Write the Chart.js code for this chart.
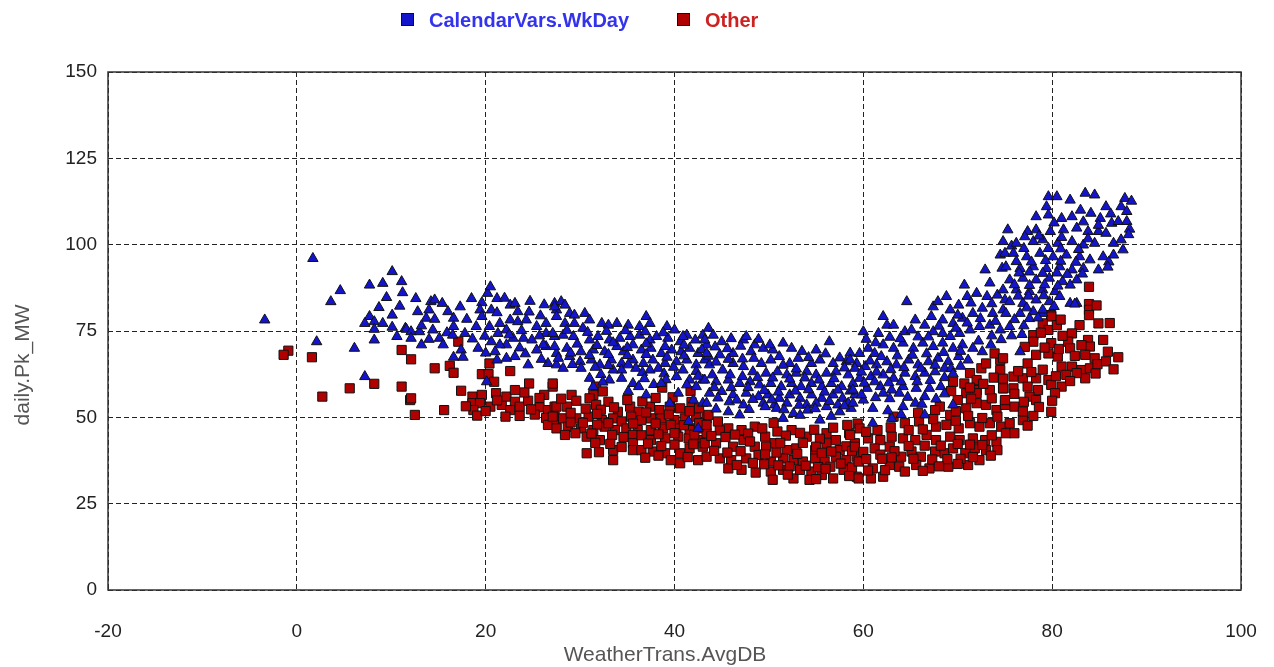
<!DOCTYPE html>
<html>
<head>
<meta charset="utf-8">
<script src="https://cdn.jsdelivr.net/npm/chart.js@4.4.1/dist/chart.umd.min.js"></script>
<style>
  html, body { margin: 0; padding: 0; background: #ffffff; }
  #wrap { width: 1274px; height: 667px; }
</style>
</head>
<body>
<div id="wrap"><canvas id="c" width="1274" height="667"></canvas></div>
<script>
// Series names and axis titles
const seriesNames = ['CalendarVars.WkDay', 'Other'];
const xTitle = 'WeatherTrans.AvgDB';
const yTitle = 'daily.Pk_MW';

// Tick values
const xTicks = [-20, 0, 20, 40, 60, 80, 100];
const yTicks = [0, 25, 50, 75, 100, 125, 150];

// Weekday peaks: [average dry bulb, daily peak MW]
const wkdayPoints = [
  [1.7,96.0],[-3.4,78.2],[4.6,86.7],[3.6,83.5],[10.1,92.2],[7.7,88.3],[9.1,88.8],[11.1,89.3],[11.2,86.1],[8.7,81.8],
  [10.1,79.6],[7.7,79.2],[7.2,77.2],[8.2,77.7],[9.1,77.2],[8.2,75.5],[10.1,76.1],[11.5,75.8],[10.6,73.4],[8.2,72.4],
  [2.1,71.9],[6.1,70.0],[7.2,61.8],
  [12.6,84.4],[14.2,83.5],[14.6,84.0],[15.4,83.0],[16.0,80.6],[16.6,78.7],[13.7,78.7],[14.6,78.4],[14.4,75.3],[16.6,76.3],
  [11.6,75.5],[12.1,74.8],[13.0,74.8],[12.1,72.9],[15.1,72.9],[15.5,71.0],[17.4,69.5],[16.6,67.4],[17.6,67.4],[18.5,84.4],
  [19.6,83.2],[20.2,85.9],[20.5,87.8],[21.2,84.4],[19.4,81.1],[20.6,81.1],[21.2,80.3],[19.6,79.2],[19.0,76.3],[20.4,76.3],
  [21.5,77.2],[21.3,74.3],[22.2,75.3],[22.6,82.5],[23.1,83.0],[23.4,80.6],[22.6,78.2],[23.4,77.7],[24.3,78.2],[22.9,72.9],
  [24.0,72.9],[24.9,72.4],[22.2,71.0],[21.5,71.0],[20.6,71.9],[19.2,70.0],[21.0,69.0],[22.2,67.1],[23.1,67.6],[21.2,66.6],
  [24.5,65.2],[20.1,60.3],[26.4,74.3],[27.3,73.4],[26.4,70.5],[27.5,68.5],[26.6,65.6],[27.5,65.2],[27.3,83.0],[27.5,81.1],
  [26.4,77.2],[25.4,76.3],[26.1,71.0],[25.4,69.5],
  [13.2,76.5],[14.0,81.1],[15.9,74.5],[17.8,74.3],[18.0,78.4],[17.3,82.0],[19.9,73.5],[22.5,73.9],[23.8,75.1],[24.6,80.5],
  [25.8,79.4],[25.7,73.6],[23.6,70.1],[24.2,68.4],[25.9,66.8],[18.6,72.7],[20.0,68.6],[22.0,84.5],[24.7,83.6],[26.2,82.6],
  [13.2,71.0],[14.0,72.6],[16.5,73.8],[10.9,82.2],[12.8,80.6],[9.5,84.7],
  [28.0,83.5],[27.3,82.0],[28.4,82.5],[28.9,80.1],[27.5,79.2],[29.4,79.6],[30.5,80.1],[31.0,78.2],[28.4,77.2],[29.4,77.2],
  [30.3,75.8],[32.3,77.2],[33.0,76.7],[33.9,77.2],[35.1,76.7],[36.3,76.3],[37.0,79.2],[37.4,77.2],[39.2,76.3],[40.0,75.3],
  [41.3,73.8],[42.2,72.4],[43.0,73.8],[43.4,71.0],[27.1,74.3],[28.2,73.8],[29.3,73.4],[31.0,72.4],[31.9,73.4],[33.1,72.4],
  [34.2,72.9],[35.3,73.4],[36.3,73.8],[37.4,72.4],[38.1,73.4],[39.3,72.9],[40.6,71.9],[27.3,70.5],[28.6,70.0],[30.1,69.0],
  [31.4,69.5],[32.6,69.0],[33.9,70.5],[34.6,69.0],[35.6,71.0],[36.5,69.5],[37.5,70.0],[38.6,68.5],[39.7,69.5],[40.7,69.0],
  [41.6,70.0],[42.5,68.5],[27.7,67.1],[28.9,67.6],[30.0,66.1],[31.2,66.6],[32.1,65.2],[33.3,66.6],[34.4,65.6],[35.6,66.6],
  [36.7,65.6],[37.7,66.6],[39.0,65.6],[40.2,66.1],[41.3,66.6],[42.3,65.2],[43.2,66.6],[28.2,64.2],[30.1,64.2],[34.4,63.7],
  [35.9,64.2],[37.4,63.7],[38.3,64.2],[40.9,63.7],[31.0,61.3],[33.5,63.7],[33.1,60.8],[34.4,61.3],[35.6,59.8],[40.2,61.8],
  [41.6,60.8],[43.0,60.8],[31.4,58.9],[42.3,58.9],
  [28.6,75.2],[30.8,74.6],[32.8,74.9],[34.8,75.1],[36.9,74.8],[38.8,74.5],[40.9,73.4],[29.7,71.2],[31.8,70.8],[33.5,71.6],
  [35.0,70.2],[37.0,71.3],[39.0,70.5],[41.0,70.9],[42.9,69.6],[29.0,68.6],[31.0,67.9],[33.0,68.2],[35.0,67.9],[37.0,68.2],
  [39.2,67.4],[41.0,67.8],[43.6,67.7],[29.2,65.3],[31.6,64.5],[33.0,65.0],[35.1,65.2],[36.6,63.0],[38.9,62.6],[39.9,64.5],
  [42.3,63.3],[32.2,62.4],[36.8,61.2],[39.1,60.9],[42.5,61.9],[37.8,59.5],[32.4,60.2],
  [35.1,57.5],[36.2,58.9],[37.0,56.5],[39.5,54.1],[40.4,57.0],[41.5,48.8],[42.5,46.8],[42.0,55.0],[43.0,54.1],[38.6,59.8],
  [41.3,59.4],
  [43.6,75.8],[44.1,73.8],[45.0,71.9],[43.2,72.4],[47.3,72.4],[47.6,73.4],[48.5,71.0],[49.4,70.0],[50.4,69.5],[51.5,71.5],
  [48.1,69.0],[56.4,71.9],[55.0,69.5],[46.2,68.5],[43.4,68.5],[44.8,68.1],[49.2,65.6],[50.2,66.6],[51.1,67.6],[52.2,65.6],
  [53.1,67.1],[54.5,65.6],[55.4,66.6],[56.8,65.6],[58.2,66.1],[59.3,65.6],[46.2,65.6],[47.3,64.7],[43.7,65.2],[45.1,63.7],
  [48.3,63.2],[49.7,62.8],[50.9,63.2],[51.9,62.3],[52.9,62.8],[54.0,63.2],[55.0,62.3],[56.1,62.8],[57.1,63.2],[58.4,62.3],
  [43.2,60.8],[44.4,60.3],[45.7,60.8],[46.9,59.8],[48.0,60.3],[49.0,59.4],[50.2,59.8],[51.3,58.9],[52.4,59.8],[53.4,58.9],
  [54.5,59.8],[55.6,58.9],[56.6,59.8],[57.7,58.9],[58.9,59.8],[43.7,57.0],[45.0,57.5],[46.2,56.5],[47.6,57.0],[48.9,56.0],
  [49.9,56.5],[51.1,55.5],[52.2,56.5],[53.3,55.5],[54.5,56.5],[55.6,55.5],[56.8,56.5],[57.8,55.5],[59.1,56.5],[43.4,54.1],
  [45.8,54.5],[47.3,53.6],[49.4,54.1],[50.6,53.6],[51.9,54.1],[54.0,53.6],[55.0,54.1],[57.3,53.6],[58.4,54.1],
  [45.7,51.6],[46.9,50.7],[49.6,53.1],[50.8,52.6],[51.5,49.7],[52.6,51.1],[54.1,52.1],[55.4,49.2],[56.1,53.1],[57.5,51.6],
  [58.7,52.6],
  [44.3,70.4],[45.6,69.9],[47.0,70.6],[46.0,72.8],[48.9,72.6],[50.1,71.0],[52.4,70.0],[53.5,69.1],[54.2,67.3],[52.9,64.0],
  [51.5,65.1],[48.4,67.1],[47.2,66.9],[45.7,66.8],[44.4,66.0],[44.0,62.3],[45.9,62.3],[47.2,61.8],[48.8,61.5],[50.4,61.4],
  [52.2,61.1],[53.8,61.4],[55.3,60.8],[56.9,61.2],[58.0,64.3],[57.5,67.2],[58.6,68.6],[56.0,68.4],[44.2,58.6],[46.0,58.6],
  [47.8,58.6],[49.5,57.8],[51.0,57.3],[52.8,57.6],[54.2,58.0],[55.9,57.3],[57.3,57.9],[58.6,57.6],[44.6,55.6],[46.6,55.0],
  [48.3,55.2],[50.3,55.1],[51.6,52.2],[53.2,53.5],[54.9,52.5],[56.4,54.6],[58.0,53.3],[47.9,52.3],[44.4,52.4],[53.3,50.6],
  [56.6,50.3],
  [64.6,83.5],[62.1,79.2],[60.0,74.8],[61.6,74.3],[62.5,76.7],[63.2,76.7],[65.5,78.2],[64.4,74.8],[65.1,75.3],[66.5,76.7],
  [67.4,82.0],[67.2,79.2],[67.9,83.5],[68.8,85.0],[69.2,81.1],[70.1,82.5],[71.0,85.0],[72.0,85.9],[73.1,85.0],[74.2,85.4],
  [75.0,84.0],[68.4,78.2],[69.5,77.2],[70.5,78.7],[71.6,80.1],[72.6,81.6],[73.7,80.1],[74.8,81.1],[67.4,74.8],[68.4,74.3],
  [69.2,73.4],[70.2,74.3],[71.3,75.3],[72.3,76.3],[73.4,76.7],[74.5,75.3],[58.6,66.6],[59.6,68.5],[60.5,70.0],[61.2,68.5],
  [62.1,71.0],[63.2,70.0],[64.2,71.5],[65.3,70.0],[66.3,71.5],[67.4,70.5],[68.4,71.5],[69.5,70.0],[70.5,71.0],[71.6,70.0],
  [72.6,69.0],[73.5,71.0],[59.1,64.2],[60.2,64.7],[61.4,65.2],[62.5,66.1],[63.5,65.2],[64.8,66.6],[65.8,65.2],[66.9,66.1],
  [67.9,67.1],[69.0,66.1],[70.1,67.6],[71.1,66.6],[59.6,61.3],[60.8,61.8],[62.1,62.3],[63.2,61.3],[64.4,62.8],[65.5,61.8],
  [66.5,62.8],[67.6,63.2],[68.6,64.2],[58.9,57.9],[60.4,58.4],[61.8,58.9],[63.0,57.9],[64.2,58.9],[65.6,58.4],[67.0,58.4],
  [68.2,58.9],
  [60.0,55.0],[61.0,52.6],[61.0,48.3],[63.0,49.7],[64.2,53.1],[65.5,54.1],[66.5,50.7],[66.5,56.0],[69.5,53.6],[58.9,54.1],
  [62.1,57.0],[63.8,57.0],
  [60.3,72.6],[61.3,71.6],[62.8,73.2],[63.9,72.8],[65.8,73.3],[66.9,73.3],[68.0,76.4],[69.8,75.8],[71.0,77.3],[72.4,78.6],
  [73.6,82.9],[71.4,83.1],[70.0,79.6],[60.7,66.3],[61.9,67.6],[63.6,67.8],[65.2,68.0],[66.7,68.4],[68.5,68.8],[70.3,69.1],
  [72.2,72.1],[73.6,73.6],[74.6,72.5],[59.8,63.1],[61.4,63.1],[62.9,63.8],[64.3,64.4],[66.1,64.2],[67.6,65.1],[69.3,64.1],
  [70.3,64.8],[60.1,59.9],[61.2,60.3],[62.7,60.0],[64.0,60.3],[65.7,60.3],[67.1,60.7],[68.6,61.5],[69.5,62.6],[59.8,56.5],
  [61.3,55.7],[62.8,55.4],[64.7,55.8],[66.2,53.8],[67.7,55.3],[68.6,56.8],[62.6,51.9],[64.0,50.8],
  [72.9,92.7],[74.5,97.0],[70.7,88.3],[73.4,88.9],[74.7,93.2],[75.7,99.6],
  [79.6,113.9],[80.5,113.9],[81.9,112.9],[83.5,114.9],[84.5,114.4],[85.7,111.0],[87.7,113.4],[87.3,111.0],[87.9,109.6],[79.4,111.0],
  [78.3,108.1],[79.6,108.6],[81.0,107.6],[82.1,108.1],[83.0,110.0],[84.1,109.1],[85.1,107.6],[86.3,106.2],[87.0,106.7],[87.9,106.7],
  [75.3,104.3],[77.4,103.8],[78.3,104.3],[79.8,103.8],[81.2,104.3],[82.6,104.8],[83.8,103.8],[84.9,103.8],[85.7,103.3],[86.5,100.4],
  [87.3,101.4],[74.8,100.9],[76.2,100.4],[78.0,100.9],[79.0,101.4],[80.6,100.4],[82.1,100.9],[83.3,99.9],[84.5,100.4],[85.4,96.5],
  [86.5,97.0],[84.9,92.7],[75.0,97.5],[75.9,97.5],[77.3,96.5],[78.7,97.5],[80.1,96.5],[81.5,97.0],[82.9,96.5],[84.0,95.6],
  [75.1,93.6],[76.6,93.1],[78.0,93.6],[79.4,93.1],[80.8,93.6],[82.1,92.7],[83.3,93.1],[75.5,89.8],[76.9,90.3],[78.3,89.8],
  [79.7,90.3],[81.1,89.3],[82.6,89.8],[74.8,86.9],[76.2,86.9],[77.6,86.4],[79.0,86.9],[80.3,86.4],[81.9,88.3],[81.9,83.0],
  [82.6,83.0],[75.5,83.5],[76.9,83.0],[78.3,84.0],[79.7,83.5],[75.1,80.1],[76.6,80.1],[78.0,80.6],[79.0,80.1],
  [82.4,82.8],[76.6,69.0],[79.0,81.1],[86.0,95.0],[87.5,98.5],[88.2,104.5],
  [76.2,95.1],[77.8,95.0],[79.3,95.4],[80.9,95.2],[82.5,94.9],[76.5,91.8],[77.6,92.1],[79.0,91.7],[80.5,91.8],[81.6,91.4],
  [76.0,88.4],[77.6,88.2],[79.2,88.4],[80.6,88.0],[76.4,85.1],[77.5,85.1],[79.1,85.2],[80.8,85.0],[77.3,81.7],[80.2,82.1],
  [76.0,78.3],[77.6,78.6],[74.0,77.8],[75.5,76.3],[77.0,76.5],[75.7,73.6],[76.8,74.0],[78.5,78.8],[80.9,98.8],[79.6,98.9],
  [77.0,98.9],[82.8,98.6],[83.8,101.7],[81.0,102.1],[78.6,102.5],[77.1,102.3],[80.2,106.3],[83.3,106.6],[84.9,105.6],[86.2,108.9],
  [88.4,112.6],[88.1,102.9],[85.9,93.5],[83.2,91.5]
];

// Remaining days: [average dry bulb, daily peak MW]
const otherPoints = [
  [-0.9,69.3],[-1.4,68.1],[1.6,67.4],[11.1,69.5],[8.2,59.7],[11.1,58.9],[5.6,58.4],[2.7,56.0],[12.0,55.0],
  [12.1,66.8],[14.6,64.2],[16.2,64.9],[16.6,62.9],[17.1,71.9],[12.1,55.5],[12.5,50.7],[15.6,52.1],[19.6,62.5],[20.3,62.5],
  [20.4,65.6],[22.6,63.4],[24.6,59.8],[27.1,58.9],[18.6,56.0],[19.6,56.5],[18.6,54.1],[19.4,54.1],[18.7,52.1],[19.1,50.5],
  [20.5,53.1],[21.1,57.0],[21.7,53.6],[22.2,56.0],[23.1,57.9],[23.1,54.5],[22.6,52.1],[23.6,53.1],[22.1,50.2],[23.6,50.4],
  [26.2,56.5],[25.7,52.9],[26.6,52.1],[27.3,53.1],[26.4,49.8],[27.3,50.2],[26.6,47.8],[27.5,47.8],
  [17.9,53.2],[20.0,51.8],[21.2,54.9],[24.5,54.8],[25.2,50.8],[24.1,57.2],[25.7,55.6],[24.8,52.3],[20.9,60.3],[17.4,57.7],
  [27.1,59.8],[31.7,58.9],[38.7,58.6],[41.7,57.6],
  [29.1,56.5],[27.5,53.1],[28.6,53.1],[31.4,56.5],[32.4,57.5],[31.0,55.5],[31.7,53.6],[33.0,54.5],[34.0,51.6],[35.3,53.1],
  [36.2,51.6],[37.4,53.1],[38.4,52.1],[39.5,53.1],[40.6,52.6],[27.1,50.2],[28.2,49.7],[29.6,49.7],[30.9,50.2],[32.3,49.2],
  [33.5,49.7],[34.4,48.8],[35.4,50.2],[36.5,49.2],[37.5,49.7],[38.6,49.7],[40.0,49.2],[41.1,49.7],[42.3,50.2],[43.4,49.7],
  [27.5,46.8],[28.7,47.3],[30.1,46.8],[31.4,46.3],[32.6,47.3],[33.7,46.3],[34.9,46.8],[36.1,46.3],[37.5,46.3],[38.8,46.8],
  [40.2,46.8],[41.6,46.3],[42.8,46.8],[28.4,44.9],[30.7,44.4],[32.1,43.4],[35.6,44.9],[37.5,43.4],[39.0,43.9],[40.4,44.4],
  [41.5,43.9],[42.7,43.4],[43.4,45.4],[35.6,42.5],[35.6,40.5],[33.5,40.5],[33.5,37.6],[30.7,39.6],[36.5,40.5],[37.7,40.1],
  [39.0,39.6],[40.6,39.6],[41.6,41.0],[42.5,37.6],[40.6,36.7],[43.0,41.5],
  [28.0,55.4],[29.6,54.8],[30.6,52.5],[32.2,52.2],[33.6,52.9],[35.0,55.0],[36.6,54.6],[38.0,55.6],[39.8,55.8],[41.8,54.4],
  [42.6,52.6],[29.0,51.3],[31.8,51.0],[37.0,51.4],[39.4,50.8],[41.6,51.8],[29.0,48.5],[30.3,48.4],[31.8,47.9],[33.0,48.3],
  [35.6,48.2],[38.0,48.2],[39.6,47.8],[41.0,47.7],[42.6,48.3],[29.5,45.4],[31.2,45.3],[33.4,44.9],[34.6,44.3],[36.5,44.8],
  [38.3,45.1],[40.0,45.4],[42.1,45.0],[31.6,42.6],[33.2,42.3],[34.4,41.4],[37.2,42.4],[38.6,41.7],[40.0,42.1],[42.0,42.2],
  [32.0,39.9],[38.3,38.9],[41.4,38.5],[39.6,37.6],[36.9,38.3],
  [43.6,50.7],[44.6,48.8],[43.4,47.8],[45.7,46.8],[47.1,46.3],[48.5,47.3],[49.6,44.4],[50.9,45.9],[52.4,46.3],[54.0,44.4],
  [56.1,45.4],[57.1,43.4],[58.5,45.4],[43.2,42.5],[44.4,42.5],[46.2,41.5],[47.3,43.4],[48.5,41.5],[50.6,42.5],[51.9,40.5],
  [52.9,41.0],[54.9,40.5],[56.1,42.5],[57.5,40.5],[59.1,42.5],[43.4,38.6],[44.8,38.1],[46.0,37.6],[47.6,38.1],[48.9,39.1],
  [50.2,37.2],[51.5,38.1],[52.6,37.6],[53.6,37.2],[54.9,38.1],[55.9,37.2],[57.1,38.6],[58.2,37.6],[59.3,38.6],[45.7,35.2],
  [47.1,34.8],[50.2,34.3],[51.5,34.8],[52.6,32.3],[53.3,34.8],[54.5,34.3],[55.6,33.3],[56.8,32.3],[57.9,34.8],[59.3,32.8],
  [50.4,31.9],[54.3,31.9],
  [44.8,46.2],[46.4,45.0],[47.8,45.3],[49.3,46.8],[50.5,48.4],[51.8,44.7],[53.3,45.5],[54.8,46.4],[55.4,43.8],[56.8,47.0],
  [58.3,47.8],[59.4,48.2],[45.4,44.3],[48.0,43.0],[49.7,41.5],[51.2,42.6],[53.6,42.6],[55.0,41.5],[58.2,41.6],[44.2,40.3],
  [45.6,39.8],[47.0,40.2],[49.6,39.3],[50.8,39.8],[53.0,39.4],[55.6,39.7],[56.6,40.1],[58.8,40.3],[46.6,36.2],[48.3,36.8],
  [49.5,36.4],[51.0,36.1],[52.2,35.8],[53.9,36.0],[55.2,35.6],[56.5,35.7],[57.6,36.6],[58.8,35.5],[48.6,34.0],[52.0,33.4],
  [55.0,32.1],[56.0,35.1],[58.5,33.0],[43.9,44.6],
  [74.5,66.6],[74.5,63.7],[72.5,64.2],[71.3,62.8],[69.5,60.3],[70.7,59.8],[72.0,60.8],[72.0,57.9],[73.4,57.9],[74.8,58.4],
  [73.9,68.5],
  [68.1,53.1],[69.2,50.7],[70.9,52.6],[72.0,54.1],[73.0,53.6],[74.1,52.1],[75.0,53.6],[72.0,57.0],[70.9,57.0],[59.6,46.8],
  [64.4,48.3],[65.9,48.8],[63.2,50.2],[67.7,47.3],[68.8,47.8],[70.1,46.8],[71.3,48.3],[72.3,47.3],[73.4,48.3],[74.6,47.3],
  [58.6,44.9],[60.5,43.9],[61.8,43.4],[63.0,44.4],[64.2,43.9],[65.5,43.4],[66.7,44.9],[67.7,43.4],[69.2,44.4],[70.2,43.4],
  [71.6,43.9],[72.9,43.4],[74.1,42.9],[75.1,45.4],[59.1,41.5],[61.2,41.0],[62.8,41.5],[64.0,38.6],[65.1,40.1],[66.1,38.6],
  [67.6,40.1],[68.6,39.6],[69.5,41.0],[70.8,39.6],[71.8,41.0],[73.0,40.5],[74.2,40.5],[59.5,37.2],[61.0,35.2],[62.1,32.8],
  [62.8,36.2],[63.8,35.7],[65.6,36.2],[67.0,35.2],[69.0,35.7],[71.1,36.2],[72.3,37.6],[59.5,32.3],[60.8,32.3],[67.6,52.1],
  [60.3,45.8],[61.5,46.3],[62.9,47.1],[64.8,46.3],[66.3,46.5],[67.4,49.5],[69.8,49.0],[71.1,50.4],[72.6,49.8],[74.2,50.2],
  [65.8,51.3],[60.0,40.0],[61.8,39.2],[63.3,40.2],[64.8,41.7],[66.5,41.8],[68.2,41.8],[70.0,42.3],[71.3,42.1],[72.6,42.0],
  [73.6,44.8],[60.3,37.9],[62.0,38.0],[63.0,38.4],[65.3,38.0],[67.3,37.8],[68.9,37.9],[70.3,38.0],[71.6,38.5],[73.5,38.9],
  [60.5,34.6],[62.3,34.7],[64.4,34.3],[66.3,34.5],[68.0,35.8],[70.0,36.5],[73.6,55.5],[71.4,55.4],[70.0,55.0],[69.3,57.6],
  [72.7,59.7],[73.8,61.5],[71.3,58.6],[69.8,51.8],[74.8,61.2],[73.0,65.6],
  [83.9,87.8],[83.9,82.8],[83.9,81.1],[79.9,79.6],
  [83.9,79.6],[79.9,79.2],[84.9,77.2],[82.9,76.7],[79.0,77.2],[78.0,73.8],[78.0,71.9],[79.6,75.3],[80.5,76.7],[82.1,74.3],
  [79.9,71.5],[81.7,71.9],[83.8,72.4],[84.0,70.5],[81.9,70.0],[79.6,68.5],[78.3,68.1],[80.6,67.6],[83.5,68.1],[84.5,67.1],
  [87.0,67.4],[74.8,67.1],[77.4,65.6],[82.1,64.7],[83.1,63.7],[84.0,64.2],[81.0,64.7],[75.9,61.8],[76.9,61.3],[78.3,61.3],
  [79.6,60.8],[81.5,62.3],[83.5,61.3],[74.8,58.4],[75.9,58.4],[77.4,58.9],[78.5,57.9],[79.9,59.4],[81.0,58.9],[80.3,57.0],
  [77.6,56.0],[78.3,55.0],[76.0,53.1],[75.0,55.0],[79.9,51.6],[76.9,49.2],[75.5,48.3],[76.0,45.4],
  [76.4,63.4],[77.8,63.1],[79.0,63.8],[80.4,61.9],[82.6,62.8],[84.8,65.4],[85.9,69.0],[85.7,66.2],[86.5,63.9],[80.7,69.8],
  [82.4,67.8],[83.1,70.9],[77.1,70.4],[79.2,70.2],[78.8,74.5],[81.1,73.6],[80.9,78.3],[76.0,56.8],[77.0,54.5],[78.6,53.0],
  [80.0,54.8],[76.9,51.7],[78.0,50.4],[77.4,47.6],[81.9,60.5],[84.6,62.7],[85.4,72.4],[86.1,77.3],[84.7,82.4]
];

const toXY = pts => pts.map(p => ({ x: p[0], y: p[1] }));

// Solid frame around the plotting area
const plotFrame = {
  id: 'plotFrame',
  beforeDatasetsDraw(chart) {
    const { ctx, chartArea: a } = chart;
    ctx.save();
    ctx.setLineDash([]);
    ctx.strokeStyle = '#333333';
    ctx.lineWidth = 1.5;
    ctx.strokeRect(a.left, a.top, a.right - a.left, a.bottom - a.top);
    ctx.restore();
  }
};

// Legend row above the plot and both axis titles
const legendAndTitles = {
  id: 'legendAndTitles',
  afterDraw(chart) {
    const { ctx } = chart;
    const ds = chart.data.datasets;
    const entries = [
      { x: 401, ds: ds[0], color: '#3333ee' },
      { x: 677, ds: ds[1], color: '#cc2222' }
    ];
    ctx.save();
    ctx.font = 'bold 20px "Liberation Sans", Arial, sans-serif';
    ctx.textBaseline = 'middle';
    ctx.textAlign = 'left';
    entries.forEach(e => {
      ctx.fillStyle = e.ds.backgroundColor;
      ctx.fillRect(e.x, 13.5, 12, 12);
      ctx.strokeStyle = '#111111';
      ctx.lineWidth = 1;
      ctx.strokeRect(e.x + 0.5, 13.5, 12, 12);
      ctx.fillStyle = e.color;
      ctx.fillText(e.ds.label, e.x + 28, 21);
    });
    ctx.font = '21px "Liberation Sans", Arial, sans-serif';
    ctx.fillStyle = '#555555';
    ctx.textAlign = 'center';
    ctx.fillText(xTitle, 665, 655);
    ctx.translate(23, 365);
    ctx.rotate(-Math.PI / 2);
    ctx.fillText(yTitle, 0, 0);
    ctx.restore();
  }
};

const tickFont = { family: '"Liberation Sans", Arial, sans-serif', size: 19 };

new Chart(document.getElementById('c'), {
  type: 'scatter',
  data: {
    datasets: [
      {
        label: seriesNames[0],
        data: toXY(wkdayPoints),
        pointStyle: 'triangle',
        pointRadius: 6,
        backgroundColor: '#1414cc',
        borderColor: '#111111',
        borderWidth: 1
      },
      {
        label: seriesNames[1],
        data: toXY(otherPoints),
        pointStyle: 'rect',
        pointRadius: 6.5,
        backgroundColor: '#b00000',
        borderColor: '#111111',
        borderWidth: 1
      }
    ]
  },
  options: {
    responsive: false,
    animation: false,
    events: [],
    layout: { padding: { top: 72, right: 33, left: 0, bottom: 0 } },
    plugins: {
      legend: { display: false },
      tooltip: { enabled: false }
    },
    scales: {
      x: {
        type: 'linear',
        min: -20,
        max: 100,
        afterBuildTicks: s => { s.ticks = xTicks.map(v => ({ value: v })); },
        afterFit: s => { s.height = 77; s.paddingLeft = 0; s.paddingRight = 0; },
        grid: { color: '#222222', lineWidth: 1, drawTicks: false },
        border: { display: false, dash: [5, 3] },
        ticks: { font: tickFont, color: '#222222', padding: 30, maxRotation: 0 }
      },
      y: {
        type: 'linear',
        min: 0,
        max: 150,
        afterBuildTicks: s => { s.ticks = yTicks.map(v => ({ value: v })); },
        afterFit: s => { s.width = 108; s.paddingTop = 0; s.paddingBottom = 0; },
        grid: { color: '#222222', lineWidth: 1, drawTicks: false },
        border: { display: false, dash: [5, 3] },
        ticks: { font: tickFont, color: '#222222', padding: 11 }
      }
    }
  },
  plugins: [plotFrame, legendAndTitles]
});
</script>
</body>
</html>
